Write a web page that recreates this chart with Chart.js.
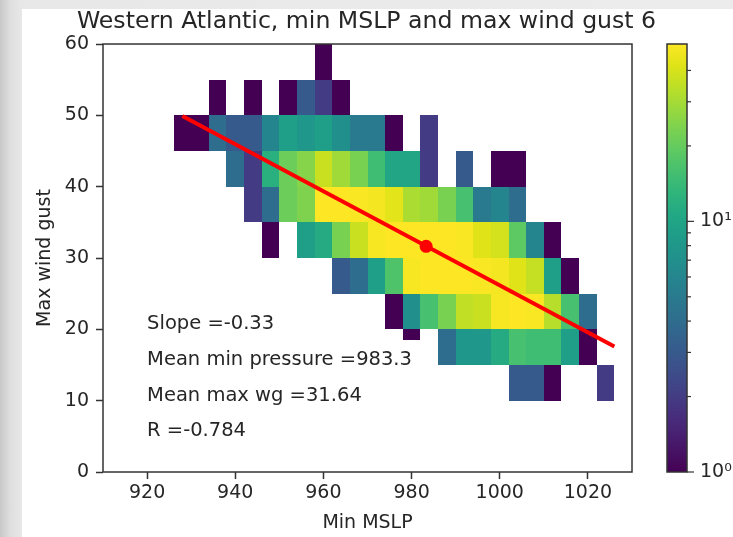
<!DOCTYPE html>
<html>
<head>
    <title>Western Atlantic MSLP vs wind gust</title>
    <script src="https://cdn.jsdelivr.net/npm/chart.js"></script>
    <style>
        body { margin: 0; width: 733px; height: 537px; overflow: hidden; position: relative;
               background: linear-gradient(90deg, #c8c8c8 0px, #dedede 10px, #e8e8e8 22px, #ececec 100%); }
        #panel { position: absolute; left: 22px; top: 9px; right: 0; bottom: 0; background: #fff; }
        canvas { position: absolute; left: 0; top: 0; }
    </style>
</head>
<body>
    <div id="panel"></div>
    <canvas id="main" width="733" height="537"></canvas>
    <canvas id="cbar" width="733" height="537"></canvas>

    <script>
        // bin edges of the 2d histogram
        const mslpEdges = [926, 930, 934, 938, 942, 946, 950, 954, 958, 962, 966, 970, 974,
                           978, 982, 986, 990, 994, 998, 1002, 1006, 1010, 1014, 1018, 1022, 1026];
        const gustEdges = [10, 15, 20, 25, 30, 35, 40, 45, 50, 55, 60];

        // counts per gust bin (bottom row first), one value per mslp bin
        const counts = [
            [0,0,0,0,0, 0,0,0,0,0, 0,0,0,0,0, 0,0,0,0,3, 3,1,0,0,2],        // 10-15
            [0,0,0,0,0, 0,0,0,0,0, 0,0,0,0,0, 4,8,8,11,16, 15,15,9,1,0],    // 15-20
            [0,0,0,0,0, 0,0,0,0,0, 0,0,1,7,16, 23,35,37,49,51, 50,33,16,4,0], // 20-25
            [0,0,0,0,0, 0,0,0,0,3, 4,9,17,49,51, 51,51,50,48,42, 36,9,1,0,0], // 25-30
            [0,0,0,0,0, 1,0,9,11,23, 37,49,51,51,51, 51,50,42,39,19, 6,1,0,0,0], // 30-35
            [0,0,0,0,2, 4,21,24,51,51, 50,48,43,31,29, 23,16,5,6,4, 0,0,0,0,0], // 35-40
            [0,0,0,4,2, 12,21,25,37,29, 23,15,10,10,2, 0,3,0,1,1, 0,0,0,0,0],  // 40-45
            [1,1,4,3,3, 6,9,8,9,7, 5,5,1,0,2, 0,0,0,0,0, 0,0,0,0,0],         // 45-50
            [0,0,1,0,1, 0,1,3,2,1, 0,0,0,0,0, 0,0,0,0,0, 0,0,0,0,0],         // 50-55
            [0,0,0,0,0, 0,0,0,1,0, 0,0,0,0,0, 0,0,0,0,0, 0,0,0,0,0]          // 55-60
        ];
        // small leftover cell under the 20-25 row
        const extraCell = { mslp: [978, 982], gust: [18.5, 20], count: 1 };

        // regression line and mean point
        const fitMslp = [928, 1026];
        const fitGust = [49.9, 17.6];
        const meanMslp = 983.3;
        const meanGust = 31.64;

        const statsLines = ['Slope =-0.33', 'Mean min pressure =983.3', 'Mean max wg =31.64', 'R =-0.784'];
        const statsGust = [20, 15, 10, 5];
        const statsMslp = 920;

        const xTicks = [920, 940, 960, 980, 1000, 1020];
        const yTicks = [0, 10, 20, 30, 40, 50, 60];
        const cbTicks = [1, 2, 3, 4, 5, 6, 7, 8, 9, 10, 20, 30, 40];
        const countMax = Math.max(...counts.flat());

        const FONT = 'DejaVu Sans';
        const INK = '#262626';

        // matplotlib viridis, 21 stops
        const VIRIDIS = ['#440154','#471365','#482475','#463480','#414487','#3b528b','#355f8d',
            '#2f6c8e','#2a788e','#25848e','#21918c','#1e9c89','#22a884','#2fb47c','#44bf70',
            '#5ec962','#7ad151','#9bd93c','#bddf26','#dfe318','#fde725'];
        const stops = VIRIDIS.map(h => [1, 3, 5].map(k => parseInt(h.substr(k, 2), 16)));
        function viridis(t) {
            t = Math.min(1, Math.max(0, t)) * (stops.length - 1);
            const i = Math.min(stops.length - 2, Math.floor(t)), f = t - i;
            const c = stops[i].map((v, k) => Math.round(v + (stops[i + 1][k] - v) * f));
            return `rgb(${c[0]},${c[1]},${c[2]})`;
        }
        const colorOf = c => viridis(Math.log(c) / Math.log(countMax));

        function cell(ctx, x, y, m0, m1, g0, g1, c) {
            const x0 = Math.round(x.getPixelForValue(m0)), x1 = Math.round(x.getPixelForValue(m1));
            const y0 = Math.round(y.getPixelForValue(g0)), y1 = Math.round(y.getPixelForValue(g1));
            ctx.fillStyle = colorOf(c);
            ctx.fillRect(x0, y1, x1 - x0, y0 - y1);
        }

        const histPlugin = {
            id: 'hist2d',
            beforeDatasetsDraw(chart) {
                const {ctx, scales: {x, y}} = chart;
                ctx.save();
                counts.forEach((row, j) => row.forEach((c, i) => {
                    if (c > 0) cell(ctx, x, y, mslpEdges[i], mslpEdges[i + 1], gustEdges[j], gustEdges[j + 1], c);
                }));
                cell(ctx, x, y, extraCell.mslp[0], extraCell.mslp[1], extraCell.gust[0], extraCell.gust[1], extraCell.count);

                ctx.fillStyle = INK;
                ctx.font = `19.5px "${FONT}"`;
                ctx.textBaseline = 'alphabetic';
                ctx.textAlign = 'left';
                statsLines.forEach((s, k) => ctx.fillText(s, x.getPixelForValue(statsMslp), y.getPixelForValue(statsGust[k])));
                ctx.restore();
            },
            afterDatasetsDraw(chart) {
                const {ctx, chartArea: a} = chart;
                ctx.save();
                ctx.strokeStyle = '#333';
                ctx.lineWidth = 1.5;
                ctx.strokeRect(a.left, a.top, a.right - a.left, a.bottom - a.top);
                ctx.restore();
            }
        };

        const tickGrid = { display: true, drawOnChartArea: false, drawTicks: true, tickLength: 7, tickColor: '#333', tickWidth: 1.5 };

        new Chart(document.getElementById('main'), {
            type: 'scatter',
            data: {
                datasets: [{
                    label: 'fit',
                    data: fitMslp.map((v, i) => ({x: v, y: fitGust[i]})),
                    showLine: true,
                    borderColor: '#ff0000',
                    borderWidth: 4,
                    pointRadius: 0
                }, {
                    label: 'mean',
                    data: [{x: meanMslp, y: meanGust}],
                    pointRadius: 6.5,
                    backgroundColor: '#ff0000',
                    borderWidth: 0
                }]
            },
            options: {
                responsive: false,
                animation: false,
                devicePixelRatio: 1,
                plugins: {
                    legend: { display: false },
                    tooltip: { enabled: false },
                    title: {
                        display: true,
                        text: 'Western Atlantic, min MSLP and max wind gust 6',
                        color: INK,
                        font: { family: FONT, size: 23.6, weight: 'normal' },
                        padding: { top: 8, bottom: 7.7 }
                    }
                },
                scales: {
                    x: {
                        type: 'linear', min: 910, max: 1030,
                        afterBuildTicks: s => { s.ticks = xTicks.map(v => ({value: v})); },
                        afterFit: s => { s.height = 65; },
                        grid: tickGrid,
                        border: { display: false },
                        ticks: { color: INK, font: { family: FONT, size: 19 }, padding: 3, maxRotation: 0, callback: v => String(v) },
                        title: { display: true, text: 'Min MSLP', color: INK, font: { family: FONT, size: 19 }, padding: { bottom: 2.5 } }
                    },
                    y: {
                        type: 'linear', min: 0, max: 60,
                        afterBuildTicks: s => { s.ticks = yTicks.map(v => ({value: v})); },
                        afterFit: s => { s.width = 103; },
                        grid: tickGrid,
                        border: { display: false },
                        ticks: { color: INK, font: { family: FONT, size: 19 }, padding: 7, callback: v => String(v) },
                        title: { display: true, text: 'Max wind gust', color: INK, font: { family: FONT, size: 19 }, padding: { top: 33.6 } }
                    },
                    // empty right-hand axis that keeps room for the colorbar
                    yRight: {
                        type: 'linear', position: 'right', min: 0, max: 1,
                        afterFit: s => { s.width = 101; },
                        grid: { display: false, drawTicks: false },
                        border: { display: false },
                        ticks: { display: false }
                    }
                }
            },
            plugins: [histPlugin]
        });

        // colorbar as a second chart with a log scale
        const cbarPlugin = {
            id: 'cbar',
            beforeDatasetsDraw(chart) {
                const {ctx, chartArea: a, scales: {y}} = chart;
                ctx.save();
                for (let py = Math.floor(a.top); py < Math.ceil(a.bottom); py++) {
                    ctx.fillStyle = colorOf(y.getValueForPixel(py + 0.5));
                    ctx.fillRect(a.left, py, a.right - a.left, 1);
                }
                ctx.strokeStyle = '#333';
                ctx.lineWidth = 1.5;
                ctx.strokeRect(a.left, a.top, a.right - a.left, a.bottom - a.top);
                ctx.lineWidth = 1.2;
                y.ticks.forEach(t => {
                    const py = y.getPixelForValue(t.value);
                    const len = (t.value === 1 || t.value === 10) ? 7 : 4;
                    ctx.beginPath();
                    ctx.moveTo(a.right, py);
                    ctx.lineTo(a.right + len, py);
                    ctx.stroke();
                });
                ctx.restore();
            }
        };

        new Chart(document.getElementById('cbar'), {
            type: 'scatter',
            data: { datasets: [] },
            options: {
                responsive: false,
                animation: false,
                devicePixelRatio: 1,
                layout: { padding: { left: 667, top: 44, bottom: 65 } },
                plugins: { legend: { display: false }, tooltip: { enabled: false } },
                scales: {
                    x: { display: false, min: 0, max: 1 },
                    y: {
                        type: 'logarithmic', position: 'right', min: 1, max: countMax,
                        afterBuildTicks: s => { s.ticks = cbTicks.map(v => ({value: v})); },
                        afterFit: s => { s.width = 46; },
                        grid: { display: false, drawTicks: false },
                        border: { display: false },
                        ticks: {
                            color: INK, font: { family: FONT, size: 19 }, padding: 13, autoSkip: false,
                            callback: v => v === 1 ? '10\u2070' : v === 10 ? '10\u00b9' : ''
                        }
                    }
                }
            },
            plugins: [cbarPlugin]
        });
    </script>
</body>
</html>
